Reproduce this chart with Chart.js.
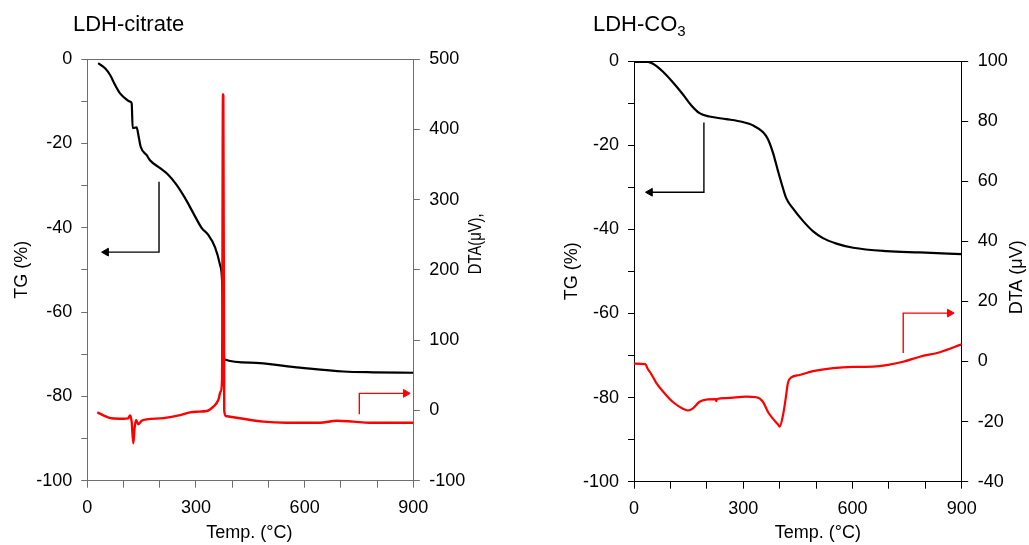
<!DOCTYPE html>
<html>
<head>
<meta charset="utf-8">
<title>TG / DTA curves: LDH-citrate and LDH-CO3</title>
<script src="https://cdn.jsdelivr.net/npm/chart.js@4.4.1/dist/chart.umd.min.js"></script>
<style>
  html, body { margin: 0; padding: 0; background: #fff; }
  body { width: 1029px; height: 545px; position: relative; overflow: hidden;
         font-family: "Liberation Sans", Arial, sans-serif; }
  canvas.panel { position: absolute; top: 0; height: 545px; }
  .title { position: absolute; top: 13px; font-size: 22px; line-height: 22px; color: #000;
           white-space: nowrap; z-index: 2; }
  .title .sub { font-size: 15px; position: relative; top: 5px; }
</style>
</head>
<body>
<canvas id="citrate" class="panel" width="515" height="545" style="left:0;width:515px;"></canvas>
<canvas id="carbonate" class="panel" width="509" height="545" style="left:520px;width:509px;"></canvas>
<div class="title" style="left:73px;">LDH-citrate</div>
<div class="title" style="left:593px;">LDH-CO<span class="sub">3</span></div>
<script>
// ---- LDH-citrate ----
// TG mass change (%) against temperature (°C)
const citrateTgTemp = [30, 49, 63, 77, 90, 104, 118, 122.5, 125.3, 136.3, 141, 147.4, 164, 173, 201, 224, 247, 270, 293, 316, 334, 352.5, 366, 372, 378, 449, 587, 707, 790, 900];
const citrateTg     = [-1.0, -2.2, -3.8, -6.2, -8.1, -9.3, -10.1, -10.5, -16.4, -16.2, -18, -20.8, -22.8, -24, -25.9, -27.5, -29.9, -33, -36.6, -40.1, -41.7, -44.6, -48.7, -52.4, -71.2, -72, -73.2, -74.1, -74.3, -74.4];
// DTA signal (µV) against temperature (°C)
const citrateDtaTemp = [27.6, 48.9, 67, 99.4, 113, 118, 122.5, 127, 130, 134.5, 141, 150, 164, 210, 256, 283.5, 302, 330, 348, 361.7, 368, 372, 374.5, 375.5, 378, 382, 412, 486, 550, 642, 688.5, 734, 780, 900];
const citrateDta     = [-2.7, -8, -11.2, -11.8, -11.2, -7, -16, -46.8, -27.9, -13.7, -19.8, -14.7, -12.8, -10.9, -6.6, -2.7, -1.8, -0.9, 5.3, 14.8, 26.6, 43, 450, 448, 0.6, -8, -10.4, -16, -17.5, -17.5, -14.7, -16, -17.5, -17.5];
// guide arrows (temperature, value) pointing at the axis each curve belongs to
const citrateTgArrowTemp = [198, 198, 52];
const citrateTgArrow     = [-29.1, -45.8, -45.8];
const citrateDtaArrowTemp = [751, 751, 879];
const citrateDtaArrow     = [-5.6, 24.3, 24.3];

// ---- LDH-CO3 ----
const carbonateTgTemp = [0, 38, 51, 79, 106, 134, 157, 180, 207, 253, 299, 327, 354, 368, 382, 395, 409, 418, 437, 464, 492, 519, 556, 602, 694, 785, 900];
const carbonateTg     = [-0.2, -0.2, -0.6, -2.5, -5, -7.9, -10.5, -12.4, -13.2, -13.8, -14.5, -15.3, -16.9, -18.6, -21.9, -26, -30.2, -32.6, -35.1, -38, -40.5, -42.1, -43.4, -44.4, -45.2, -45.5, -45.9];
const carbonateDtaTemp = [0, 31, 37.6, 47, 60.6, 79, 106, 134, 148, 161, 180, 203, 224, 226, 228, 253, 308, 336, 354, 368, 382, 395, 400, 409, 416, 423, 432, 455, 492, 547, 602, 657, 694, 739, 785, 840, 900];
const carbonateDta     = [-0.7, -0.9, -2.4, -4.1, -7, -9.9, -13.4, -15.7, -16.3, -15.7, -13.4, -12.6, -12.5, -13.2, -12.5, -12.2, -11.7, -11.9, -13.4, -16.8, -19.1, -20.9, -21.7, -18, -12.8, -7, -5.3, -4.5, -3.2, -2.2, -1.8, -1.7, -1.2, -0.1, 1.6, 3.1, 5.7];
const carbonateTgArrowTemp = [192, 192, 44];
const carbonateTgArrow     = [-14.6, -31.2, -31.2];
const carbonateDtaArrowTemp = [739.4, 739.4, 867];
const carbonateDtaArrow     = [2.8, 16.1, 16.1];

// axis ranges and tick steps
const tempRange = [0, 900];
const tempStep = 100, tempLabelEvery = 300;
const tgRange = [-100, 0];
const tgStep = 10, tgLabelEvery = 20;
const citrateDtaRange = [-100, 500], citrateDtaStep = 100;
const carbonateDtaRange = [-40, 100], carbonateDtaStep = 20;

const FONT = '"Liberation Sans", Arial, sans-serif';

const pts = (xs, ys) => xs.map((x, i) => ({ x, y: ys[i] }));

// draws the axis captions (the DTA caption reads upward, like the TG one)
const axisCaptions = {
  id: 'axisCaptions',
  afterDraw(chart, args, opts) {
    const { ctx, chartArea: a } = chart;
    ctx.save();
    ctx.fillStyle = '#000';
    ctx.textAlign = 'center';
    ctx.textBaseline = 'middle';
    for (const c of opts.items || []) {
      const [x, y] = c.at(a);
      ctx.save();
      ctx.font = `${c.size || 18}px ${FONT}`;
      ctx.translate(x, y);
      if (c.rotate) ctx.rotate(c.rotate);
      if (c.squeeze) ctx.scale(c.squeeze, 1);
      ctx.fillText(c.text, 0, 0);
      ctx.restore();
    }
    ctx.restore();
  }
};

function lineSet(label, data, color, width, axis, order) {
  return {
    label, data, yAxisID: axis, order,
    borderColor: color, backgroundColor: color,
    borderWidth: width, pointRadius: 0, fill: false,
    cubicInterpolationMode: 'monotone'
  };
}

function arrowSet(label, data, color, axis, headRotation) {
  return {
    label, data, yAxisID: axis, order: 0,
    borderColor: color, backgroundColor: color,
    borderWidth: 1.4, fill: false, tension: 0,
    pointRadius: data.map((_, i) => (i === data.length - 1 ? 4.5 : 0)),
    pointStyle: 'triangle', pointRotation: headRotation,
    pointBackgroundColor: color, pointBorderColor: color, pointBorderWidth: 1
  };
}

function buildChart(id, spec) {
  const axis = spec.axisColor;
  const tickFont = { family: FONT, size: 18 };
  const grid = (len) => ({ drawOnChartArea: false, drawTicks: true, tickLength: len, color: axis, lineWidth: 1 });
  return new Chart(document.getElementById(id), {
    type: 'line',
    data: { datasets: spec.datasets },
    options: {
      responsive: false, animation: false, devicePixelRatio: 1,
      layout: { padding: { top: spec.top, left: 0, right: 0, bottom: 0 } },
      plugins: { legend: { display: false }, tooltip: { enabled: false },
                 axisCaptions: { items: spec.captions } },
      scales: {
        x: {
          type: 'linear', position: 'bottom', min: tempRange[0], max: tempRange[1],
          ticks: { stepSize: tempStep, autoSkip: false, maxRotation: 0, padding: 9.5,
                   color: '#000', font: tickFont,
                   callback: v => (v % tempLabelEvery === 0 ? String(v) : '') },
          grid: grid(7), border: { color: axis, width: 1 },
          afterFit(s) { s.height = spec.xHeight; }
        },
        xTop: {
          type: 'linear', position: 'top', min: tempRange[0], max: tempRange[1],
          ticks: { display: false }, grid: { display: false },
          border: { display: true, color: axis, width: 1 },
          afterFit(s) { s.height = 0; }
        },
        yTg: {
          type: 'linear', position: 'left', min: tgRange[0], max: tgRange[1],
          ticks: { stepSize: tgStep, autoSkip: false, padding: 9, color: '#000', font: tickFont,
                   callback: v => (v % tgLabelEvery === 0 ? String(v) : '') },
          grid: grid(6), border: { color: axis, width: 1 },
          afterFit(s) { s.width = spec.leftWidth; }
        },
        yDta: {
          type: 'linear', position: 'right', min: spec.dtaRange[0], max: spec.dtaRange[1],
          ticks: { stepSize: spec.dtaStep, autoSkip: false, padding: 9.5, color: '#000', font: tickFont,
                   callback: v => String(v) },
          grid: grid(6.5), border: { color: axis, width: 1 },
          afterFit(s) { s.width = spec.rightWidth; }
        }
      }
    },
    plugins: [axisCaptions]
  });
}

const HALF_TURN_UP = -Math.PI / 2;

buildChart('citrate', {
  axisColor: '#6e6e6e',
  top: 59, xHeight: 64.3, leftWidth: 87.3, rightWidth: 101.7,
  dtaRange: citrateDtaRange, dtaStep: citrateDtaStep,
  datasets: [
    lineSet('DTA', pts(citrateDtaTemp, citrateDta), '#ff0000', 2.4, 'yDta', 1),
    lineSet('TG', pts(citrateTgTemp, citrateTg), '#000000', 2.2, 'yTg', 2),
    arrowSet('TG axis', pts(citrateTgArrowTemp, citrateTgArrow), '#000000', 'yTg', 270),
    arrowSet('DTA axis', pts(citrateDtaArrowTemp, citrateDtaArrow), '#ff0000', 'yDta', 90)
  ],
  captions: [
    { text: 'TG (%)', rotate: HALF_TURN_UP, at: a => [a.left - 65, (a.top + a.bottom) / 2] },
    { text: 'DTA(\u03bcV),', rotate: HALF_TURN_UP, squeeze: 0.82, at: a => [a.right + 63, (a.top + a.bottom) / 2 - 26] },
    { text: 'Temp. (\u00b0C)', at: a => [(a.left + a.right) / 2 - 1, a.bottom + 52] }
  ]
});

buildChart('carbonate', {
  axisColor: '#000000',
  top: 61, xHeight: 63.3, leftWidth: 114, rightWidth: 67.3,
  dtaRange: carbonateDtaRange, dtaStep: carbonateDtaStep,
  datasets: [
    lineSet('DTA', pts(carbonateDtaTemp, carbonateDta), '#ff0000', 2.2, 'yDta', 1),
    lineSet('TG', pts(carbonateTgTemp, carbonateTg), '#000000', 2.2, 'yTg', 2),
    arrowSet('TG axis', pts(carbonateTgArrowTemp, carbonateTgArrow), '#000000', 'yTg', 270),
    arrowSet('DTA axis', pts(carbonateDtaArrowTemp, carbonateDtaArrow), '#ff0000', 'yDta', 90)
  ],
  captions: [
    { text: 'TG (%)', rotate: HALF_TURN_UP, at: a => [a.left - 62, (a.top + a.bottom) / 2] },
    { text: 'DTA (\u03bcV)', rotate: HALF_TURN_UP, at: a => [a.right + 55, (a.top + a.bottom) / 2 + 6] },
    { text: 'Temp. (\u00b0C)', at: a => [(a.left + a.right) / 2 + 20, a.bottom + 51] }
  ]
});
</script>
</body>
</html>
